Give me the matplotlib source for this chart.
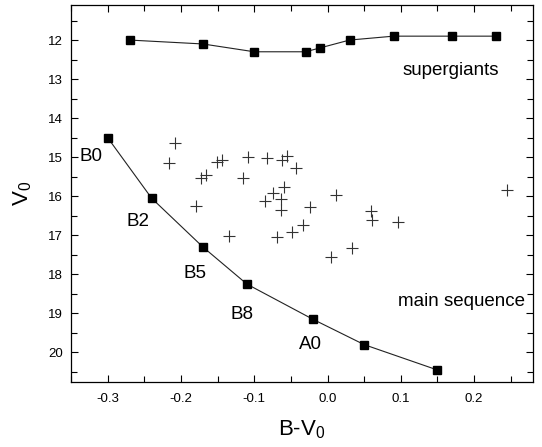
import matplotlib
matplotlib.use("Agg")
import matplotlib.pyplot as plt
from matplotlib.ticker import MultipleLocator

plt.rcParams['font.family'] = ['Liberation Sans', 'DejaVu Sans']
plt.rcParams['mathtext.fontset'] = 'custom'
plt.rcParams['mathtext.rm'] = 'Liberation Sans'

# supergiant sequence
sg_bv = [-0.27, -0.17, -0.10, -0.03, -0.01, 0.03, 0.09, 0.17, 0.23]
sg_v = [12.0, 12.1, 12.3, 12.3, 12.2, 12.0, 11.9, 11.9, 11.9]

# main sequence
ms_bv = [-0.30, -0.24, -0.17, -0.11, -0.02, 0.05, 0.15]
ms_v = [14.5, 16.05, 17.3, 18.25, 19.15, 19.8, 20.45]
ms_labels = ['B0', 'B2', 'B5', 'B8', 'A0']
ms_label_x = [-0.307, -0.259, -0.181, -0.117, -0.023]
ms_label_y = [14.97, 16.64, 17.98, 19.02, 19.79]

# observed stars
star_bv = [-0.208, -0.216, -0.151, -0.144, -0.108, -0.082, -0.062, -0.055,
           -0.173, -0.166, -0.116, -0.043, -0.075, -0.086, -0.059, -0.063,
           -0.064, -0.024, 0.012, -0.034, -0.048, -0.069, -0.135, 0.059,
           0.061, 0.096, 0.033, 0.005, 0.245, -0.180]
star_v = [14.64, 15.15, 15.11, 15.07, 15.00, 15.03, 15.06, 14.97,
          15.54, 15.46, 15.52, 15.27, 15.92, 16.11, 15.77, 16.07,
          16.34, 16.28, 15.98, 16.73, 16.91, 17.04, 17.03, 16.39,
          16.61, 16.67, 17.33, 17.56, 15.85, 16.24]

fig = plt.figure(figsize=(5.42, 4.47), dpi=100)
ax = fig.add_axes([0.131, 0.146, 0.852, 0.843])

ax.plot(sg_bv, sg_v, '-', color='#222222', lw=0.8, marker='s', ms=6,
        mfc='black', mec='black')
ax.plot(ms_bv, ms_v, '-', color='#222222', lw=0.8, marker='s', ms=6,
        mfc='black', mec='black')
ax.plot(star_bv, star_v, '+', color='#333333', ms=9, mew=0.8, ls='none')

for i in range(len(ms_labels)):
    ha = 'right' if i == 0 else 'center'
    ax.text(ms_label_x[i], ms_label_y[i], ms_labels[i], fontsize=13.5,
            ha=ha, va='center')
ax.text(0.168, 12.77, 'supergiants', fontsize=13.5, ha='center', va='center')
ax.text(0.183, 18.70, 'main sequence', fontsize=13.5, ha='center', va='center')

ax.set_xlim(-0.35, 0.28)
ax.set_ylim(20.75, 11.1)
ax.xaxis.set_major_locator(MultipleLocator(0.1))
ax.xaxis.set_minor_locator(MultipleLocator(0.05))
ax.yaxis.set_major_locator(MultipleLocator(1))
ax.yaxis.set_minor_locator(MultipleLocator(0.5))
ax.tick_params(which='both', direction='in', top=True, right=True,
               labelsize=9.5, width=0.8)
ax.tick_params(which='major', length=5)
ax.tick_params(which='minor', length=4)
ax.tick_params(axis='x', which='major', pad=8)
ax.tick_params(axis='y', which='major', pad=6)
ax.xaxis.set_major_formatter(matplotlib.ticker.FormatStrFormatter('%.1f'))
for s in ax.spines.values():
    s.set_linewidth(0.9)

ax.set_xlabel('B-V$_0$', fontsize=16, labelpad=10)
ax.set_ylabel('V$_0$', fontsize=16, labelpad=10)

fig.savefig('out.png', dpi=100)
